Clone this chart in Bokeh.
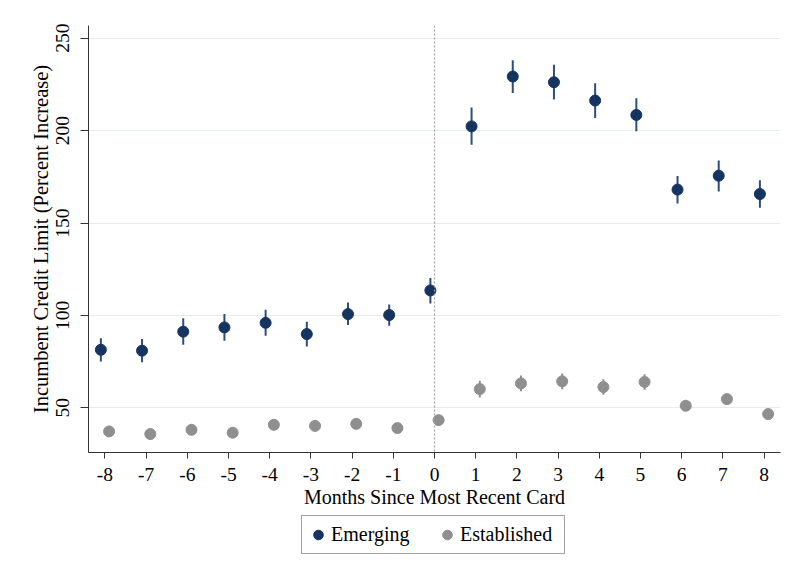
from bokeh.plotting import figure
from bokeh.layouts import column
from bokeh.models import ColumnDataSource, Legend, LegendItem, Span, FixedTicker, Range1d
from bokeh.embed import file_html
from bokeh.resources import INLINE

months = [-8, -7, -6, -5, -4, -3, -2, -1, 0, 1, 2, 3, 4, 5, 6, 7, 8]
x_ticks = list(range(-8, 9))
x_tick_labels = {t: str(t) for t in x_ticks}
y_ticks = [50, 100, 150, 200, 250]

emerging = [81.4, 80.9, 91.2, 93.5, 96.0, 89.9, 100.7, 100.2, 113.5,
            202.3, 229.3, 226.2, 216.3, 208.5, 168.1, 175.6, 165.7]
emerging_lo = [75.1, 74.6, 84.1, 86.3, 89.0, 83.2, 94.8, 94.4, 106.5,
               192.4, 220.4, 216.8, 206.9, 199.6, 160.6, 167.1, 158.2]
emerging_hi = [87.7, 87.2, 98.4, 100.7, 103.1, 96.6, 107.0, 105.9, 120.2,
               212.5, 238.1, 235.6, 225.6, 217.5, 175.5, 183.8, 173.1]

established = [37.2, 35.8, 38.1, 36.5, 40.8, 40.2, 41.3, 39.0, 43.3,
               60.1, 63.2, 64.3, 61.2, 64.0, 51.1, 54.7, 46.6]
established_lo = [35.4, 34.0, 36.2, 34.7, 38.8, 38.2, 39.3, 37.1, 40.9,
                  55.6, 58.9, 60.0, 57.0, 59.8, 48.6, 51.8, 44.2]
established_hi = [39.0, 37.6, 40.0, 38.3, 42.8, 42.2, 43.3, 40.9, 45.7,
                  64.6, 67.5, 68.6, 65.4, 68.2, 53.6, 57.6, 49.0]

offset = 0.1
em_src = ColumnDataSource(dict(x=[m - offset for m in months], y=emerging,
                               lo=emerging_lo, hi=emerging_hi))
es_src = ColumnDataSource(dict(x=[m + offset for m in months], y=established,
                               lo=established_lo, hi=established_hi))

NAVY = "#15345f"
NAVY_BAR = "#2e4e7a"
GRAY = "#8f8f8f"
FONT = "Liberation Serif"

p = figure(width=781, height=515, output_backend="svg", toolbar_location=None,
           x_range=Range1d(-8.4, 8.4), y_range=Range1d(25.8, 256.9),
           min_border_left=88, min_border_right=1, min_border_top=25,
           min_border_bottom=63)
p.outline_line_color = None
p.background_fill_color = "white"
p.border_fill_color = "white"

# grid
p.xgrid.grid_line_color = None
p.ygrid.grid_line_color = "#e4edf1"
p.ygrid.grid_line_width = 1.2
p.ygrid.ticker = FixedTicker(ticks=y_ticks)

# reference line at 0
p.add_layout(Span(location=0, dimension="height", line_color="#a0a0a0",
                  line_dash="2 2", line_width=1.2))

# error bars
p.segment(x0="x", y0="lo", x1="x", y1="hi", source=em_src,
          line_color=NAVY_BAR, line_width=2)
p.segment(x0="x", y0="lo", x1="x", y1="hi", source=es_src,
          line_color=GRAY, line_width=2)

p.scatter(x="x", y="y", source=em_src, size=11, fill_color=NAVY, line_color=NAVY)
p.scatter(x="x", y="y", source=es_src, size=11, fill_color=GRAY, line_color=GRAY)

# axes
for ax in (p.xaxis[0], p.yaxis[0]):
    ax.axis_line_color = "#333333"
    ax.major_tick_line_color = "#333333"
    ax.minor_tick_line_color = None
    ax.major_tick_in = 0
    ax.major_label_text_font = FONT
    ax.major_label_text_font_size = "19.5px"
    ax.major_label_text_color = "black"
    ax.axis_label_text_font = FONT
    ax.axis_label_text_font_style = "normal"
    ax.axis_label_text_color = "black"

p.xaxis.ticker = FixedTicker(ticks=x_ticks)
p.xaxis.major_label_overrides = x_tick_labels
p.xaxis.major_tick_out = 6
p.xaxis.major_label_standoff = 9
p.xaxis.axis_label = "Months Since Most Recent Card"
p.xaxis.axis_label_text_font_size = "20px"
p.xaxis.axis_label_standoff = 2

p.yaxis.ticker = FixedTicker(ticks=y_ticks)
p.yaxis.major_tick_out = 8
p.yaxis.major_label_orientation = "vertical"
p.yaxis.major_label_standoff = 11
p.yaxis.axis_label = "Incumbent Credit Limit (Percent Increase)"
p.yaxis.axis_label_text_font_size = "20.5px"
p.yaxis.axis_label_standoff = 2

# legend in a separate strip below
q = figure(width=781, height=55, output_backend="svg", toolbar_location=None,
           x_range=Range1d(0, 1), y_range=Range1d(0, 1),
           min_border=0)
q.outline_line_color = None
q.axis.visible = False
q.grid.visible = False
nan = float("nan")
l_em = q.scatter(x=[nan], y=[nan], size=11, fill_color=NAVY, line_color=NAVY)
l_es = q.scatter(x=[nan], y=[nan], size=11, fill_color=GRAY, line_color=GRAY)

legend = Legend(items=[LegendItem(label="Emerging", renderers=[l_em]),
                       LegendItem(label="Established", renderers=[l_es])],
                orientation="horizontal", location=(213, 16))
legend.label_text_font = FONT
legend.label_text_font_size = "20px"
legend.label_text_color = "black"
legend.border_line_color = "#444444"
legend.border_line_width = 1
legend.background_fill_color = "white"
legend.padding = 4
legend.spacing = 4
legend.glyph_width = 24
legend.glyph_height = 29
legend.label_standoff = 1
legend.label_width = 100
legend.margin = 0
q.add_layout(legend, "center")

open("out.html", "w").write(file_html(column(p, q), INLINE))
